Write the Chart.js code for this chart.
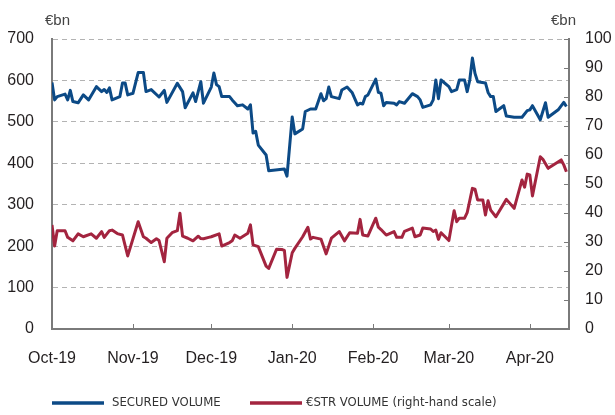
<!DOCTYPE html>
<html>
<head>
<meta charset="utf-8">
<script src="https://cdn.jsdelivr.net/npm/chart.js@4.4.1/dist/chart.umd.min.js"></script>
<style>
  body { margin: 0; background: #ffffff; }
  canvas { display: block; }
</style>
</head>
<body>
<canvas id="volumeChart" width="615" height="415"></canvas>
<script>
// month ticks on the x axis
const monthLabels = ["Oct-19", "Nov-19", "Dec-19", "Jan-20", "Feb-20", "Mar-20", "Apr-20"];
const monthStarts = ["2019-10-01", "2019-11-01", "2019-12-01", "2020-01-01", "2020-02-01", "2020-03-01", "2020-04-01"];
const axisEnd = "2020-04-16";

const leftTicks = [0, 100, 200, 300, 400, 500, 600, 700];
const rightTicks = [0, 10, 20, 30, 40, 50, 60, 70, 80, 90, 100];

// secured volume, EUR bn (left scale)
const securedDates = [
  "2019-10-01", "2019-10-02", "2019-10-03", "2019-10-06", "2019-10-07", "2019-10-08", "2019-10-09", "2019-10-11",
  "2019-10-13", "2019-10-15", "2019-10-18", "2019-10-20", "2019-10-21", "2019-10-22", "2019-10-23", "2019-10-24",
  "2019-10-27", "2019-10-28", "2019-10-29", "2019-10-30", "2019-11-01", "2019-11-03", "2019-11-05", "2019-11-06",
  "2019-11-08", "2019-11-11", "2019-11-13", "2019-11-14", "2019-11-18", "2019-11-20", "2019-11-21", "2019-11-24",
  "2019-11-25", "2019-11-27", "2019-11-28", "2019-12-01", "2019-12-02", "2019-12-03", "2019-12-04", "2019-12-05",
  "2019-12-08", "2019-12-09", "2019-12-11", "2019-12-13", "2019-12-15", "2019-12-16", "2019-12-17", "2019-12-18",
  "2019-12-19", "2019-12-22", "2019-12-23", "2019-12-29", "2019-12-30", "2020-01-01", "2020-01-02", "2020-01-05",
  "2020-01-06", "2020-01-08", "2020-01-10", "2020-01-12", "2020-01-13", "2020-01-14", "2020-01-15", "2020-01-16",
  "2020-01-19", "2020-01-20", "2020-01-22", "2020-01-24", "2020-01-26", "2020-01-27", "2020-01-28", "2020-01-29",
  "2020-01-30", "2020-02-02", "2020-02-03", "2020-02-04", "2020-02-05", "2020-02-06", "2020-02-09", "2020-02-10",
  "2020-02-11", "2020-02-13", "2020-02-16", "2020-02-18", "2020-02-19", "2020-02-20", "2020-02-23", "2020-02-24",
  "2020-02-25", "2020-02-26", "2020-02-27", "2020-03-01", "2020-03-02", "2020-03-04", "2020-03-05", "2020-03-07",
  "2020-03-08", "2020-03-09", "2020-03-10", "2020-03-11", "2020-03-12", "2020-03-15", "2020-03-16", "2020-03-17",
  "2020-03-18", "2020-03-19", "2020-03-22", "2020-03-23", "2020-03-26", "2020-03-29", "2020-03-31", "2020-04-01",
  "2020-04-02", "2020-04-05", "2020-04-07", "2020-04-08", "2020-04-12", "2020-04-14", "2020-04-15"
];
const securedValues = [
  595, 553, 561, 567, 553, 576, 549, 546,
  565, 553, 585, 573, 578, 571, 582, 553,
  561, 594, 594, 565, 569, 619, 619, 573,
  578, 560, 576, 547, 593, 573, 534, 570,
  549, 597, 545, 584, 618, 590, 585, 561,
  561, 553, 539, 541, 531, 541, 473, 477,
  444, 420, 382, 386, 369, 512, 471, 483,
  525, 531, 531, 568, 551, 556, 584, 561,
  556, 577, 584, 570, 541, 545, 543, 561,
  565, 603, 571, 569, 539, 547, 545, 541,
  549, 545, 568, 561, 553, 535, 541, 553,
  601, 556, 601, 585, 573, 578, 601, 601,
  573, 601, 654, 617, 597, 594, 571, 561,
  561, 525, 539, 514, 511, 511, 527, 529,
  539, 505, 546, 511, 530, 547, 537
];

// €STR volume, EUR bn (right scale)
const estrDates = [
  "2019-10-01", "2019-10-02", "2019-10-03", "2019-10-06", "2019-10-07", "2019-10-09", "2019-10-11", "2019-10-13",
  "2019-10-16", "2019-10-18", "2019-10-20", "2019-10-21", "2019-10-23", "2019-10-24", "2019-10-26", "2019-10-28",
  "2019-10-30", "2019-11-03", "2019-11-05", "2019-11-06", "2019-11-08", "2019-11-10", "2019-11-11", "2019-11-13",
  "2019-11-14", "2019-11-16", "2019-11-18", "2019-11-19", "2019-11-20", "2019-11-22", "2019-11-24", "2019-11-26",
  "2019-11-27", "2019-11-28", "2019-11-30", "2019-12-01", "2019-12-04", "2019-12-05", "2019-12-08", "2019-12-09",
  "2019-12-10", "2019-12-12", "2019-12-15", "2019-12-16", "2019-12-17", "2019-12-19", "2019-12-22", "2019-12-23",
  "2019-12-26", "2019-12-28", "2019-12-29", "2019-12-30", "2020-01-01", "2020-01-02", "2020-01-05", "2020-01-07",
  "2020-01-08", "2020-01-09", "2020-01-12", "2020-01-14", "2020-01-16", "2020-01-19", "2020-01-21", "2020-01-23",
  "2020-01-26", "2020-01-27", "2020-01-28", "2020-01-30", "2020-02-02", "2020-02-03", "2020-02-04", "2020-02-06",
  "2020-02-09", "2020-02-10", "2020-02-12", "2020-02-13", "2020-02-16", "2020-02-17", "2020-02-19", "2020-02-20",
  "2020-02-23", "2020-02-24", "2020-02-25", "2020-02-26", "2020-02-27", "2020-03-01", "2020-03-03", "2020-03-04",
  "2020-03-05", "2020-03-07", "2020-03-08", "2020-03-10", "2020-03-11", "2020-03-12", "2020-03-14", "2020-03-15",
  "2020-03-16", "2020-03-17", "2020-03-19", "2020-03-23", "2020-03-26", "2020-03-29", "2020-03-30", "2020-03-31",
  "2020-04-01", "2020-04-02", "2020-04-05", "2020-04-06", "2020-04-08", "2020-04-13", "2020-04-14", "2020-04-15"
];
const estrValues = [
  35.9, 28.6, 33.9, 33.9, 31.6, 30.4, 32.8, 31.8,
  32.8, 31.3, 33.6, 31.6, 33.9, 34.1, 32.9, 32.4,
  25.2, 37.0, 31.8, 31.3, 29.8, 31.1, 30.5, 23.2,
  31.3, 33.2, 33.9, 39.9, 32.0, 31.3, 30.4, 32.0,
  31.2, 31.1, 31.6, 31.8, 32.8, 28.6, 29.8, 30.4,
  32.4, 31.3, 33.0, 35.9, 29.0, 28.4, 21.7, 20.9,
  27.5, 27.4, 27.1, 17.8, 26.3, 27.8, 31.8, 35.1,
  31.0, 31.6, 31.0, 25.9, 31.3, 33.6, 30.4, 33.2,
  33.0, 37.8, 32.4, 32.1, 38.2, 35.1, 34.3, 32.4,
  33.6, 31.6, 31.6, 33.7, 34.8, 31.8, 32.4, 34.8,
  34.5, 33.6, 34.1, 30.9, 33.2, 30.5, 40.8, 37.0,
  38.2, 38.2, 40.1, 48.5, 48.2, 44.5, 44.5, 39.3,
  44.2, 41.0, 38.7, 44.7, 41.6, 51.4, 48.9, 53.4,
  53.1, 45.9, 59.4, 58.5, 55.4, 58.3, 56.6, 54.2
];

const blue = "#0c4a86";
const red = "#a3243f";
const textColor = "#231f20";
const axisColor = "#7a7a7a";

function dayIndex(s) {
  const p = s.split("-");
  return (Date.UTC(+p[0], +p[1] - 1, +p[2]) - Date.UTC(2019, 9, 1)) / 86400000;
}

function toPoints(dates, values) {
  return dates.map((d, i) => ({ x: dayIndex(d), y: values[i] }));
}

const monthDays = monthStarts.map(dayIndex);

const extras = {
  id: "extras",
  afterDraw(chart) {
    const ctx = chart.ctx;
    const area = chart.chartArea;
    const xs = chart.scales.x;
    const y1 = chart.scales.y1;
    ctx.save();
    ctx.strokeStyle = axisColor;
    ctx.lineWidth = 1;
    // small inward ticks on the month boundaries
    monthDays.forEach(function (d) {
      const px = Math.round(xs.getPixelForValue(d)) + 0.5;
      ctx.beginPath();
      ctx.moveTo(px, area.bottom);
      ctx.lineTo(px, area.bottom - 5);
      ctx.stroke();
    });
    // inward ticks on the right scale
    rightTicks.forEach(function (v) {
      const py = Math.round(y1.getPixelForValue(v)) + 0.5;
      ctx.beginPath();
      ctx.moveTo(area.right, py);
      ctx.lineTo(area.right - 5, py);
      ctx.stroke();
    });

    ctx.fillStyle = "#444";
    ctx.font = "15px 'Liberation Sans', Arial, sans-serif";
    ctx.textBaseline = "alphabetic";
    ctx.textAlign = "left";
    ctx.fillText("€bn", 45, 25);
    ctx.textAlign = "right";
    ctx.fillText("€bn", 576, 25);

    // legend
    const ly = 403;
    ctx.lineWidth = 3.5;
    ctx.strokeStyle = blue;
    ctx.beginPath();
    ctx.moveTo(52, ly);
    ctx.lineTo(104, ly);
    ctx.stroke();
    ctx.strokeStyle = red;
    ctx.beginPath();
    ctx.moveTo(250, ly);
    ctx.lineTo(302, ly);
    ctx.stroke();
    ctx.fillStyle = "#333";
    ctx.font = "13px 'Liberation Sans Narrow', 'DejaVu Sans Condensed', sans-serif";
    ctx.textAlign = "left";
    ctx.textBaseline = "middle";
    ctx.fillText("SECURED VOLUME", 112, ly);
    ctx.fillText("€STR VOLUME (right-hand scale)", 306, ly);
    ctx.restore();
  }
};

const tickFont = { family: "'Liberation Sans', Arial, sans-serif", size: 16 };

new Chart(document.getElementById("volumeChart"), {
  type: "line",
  data: {
    datasets: [
      {
        label: "SECURED VOLUME",
        data: toPoints(securedDates, securedValues),
        borderColor: blue,
        backgroundColor: blue,
        borderWidth: 3,
        pointRadius: 0,
        tension: 0,
        borderJoinStyle: "round",
        yAxisID: "y"
      },
      {
        label: "€STR VOLUME (right-hand scale)",
        data: toPoints(estrDates, estrValues),
        borderColor: red,
        backgroundColor: red,
        borderWidth: 3,
        pointRadius: 0,
        tension: 0,
        borderJoinStyle: "round",
        yAxisID: "y1"
      }
    ]
  },
  options: {
    responsive: false,
    animation: false,
    devicePixelRatio: 1,
    layout: { padding: { top: 39, left: 0, right: 0, bottom: 0 } },
    plugins: {
      legend: { display: false },
      tooltip: { enabled: false }
    },
    scales: {
      x: {
        type: "linear",
        min: 0,
        max: dayIndex(axisEnd),
        afterFit(scale) { scale.height = 86; },
        afterBuildTicks(scale) {
          scale.ticks = monthDays.map(v => ({ value: v }));
        },
        ticks: {
          autoSkip: false,
          maxRotation: 0,
          padding: 12,
          color: textColor,
          font: tickFont,
          callback(value) {
            const i = monthDays.indexOf(value);
            return i >= 0 ? monthLabels[i] : "";
          }
        },
        grid: { display: false },
        border: { display: true, color: axisColor, width: 2 }
      },
      y: {
        position: "left",
        min: 0,
        max: 700,
        afterFit(scale) { scale.width = 52; },
        afterBuildTicks(scale) {
          scale.ticks = leftTicks.map(v => ({ value: v }));
        },
        ticks: { padding: 18, color: textColor, font: tickFont },
        grid: { color: "#b3b3b3", lineWidth: 1, drawTicks: false },
        border: { display: true, color: axisColor, width: 2, dash: [5, 4] }
      },
      y1: {
        position: "right",
        min: 0,
        max: 100,
        afterFit(scale) { scale.width = 46; },
        afterBuildTicks(scale) {
          scale.ticks = rightTicks.map(v => ({ value: v }));
        },
        ticks: { padding: 16, color: textColor, font: tickFont },
        grid: { display: false, drawTicks: false },
        border: { display: true, color: axisColor, width: 2 }
      }
    }
  },
  plugins: [extras]
});
</script>
</body>
</html>
